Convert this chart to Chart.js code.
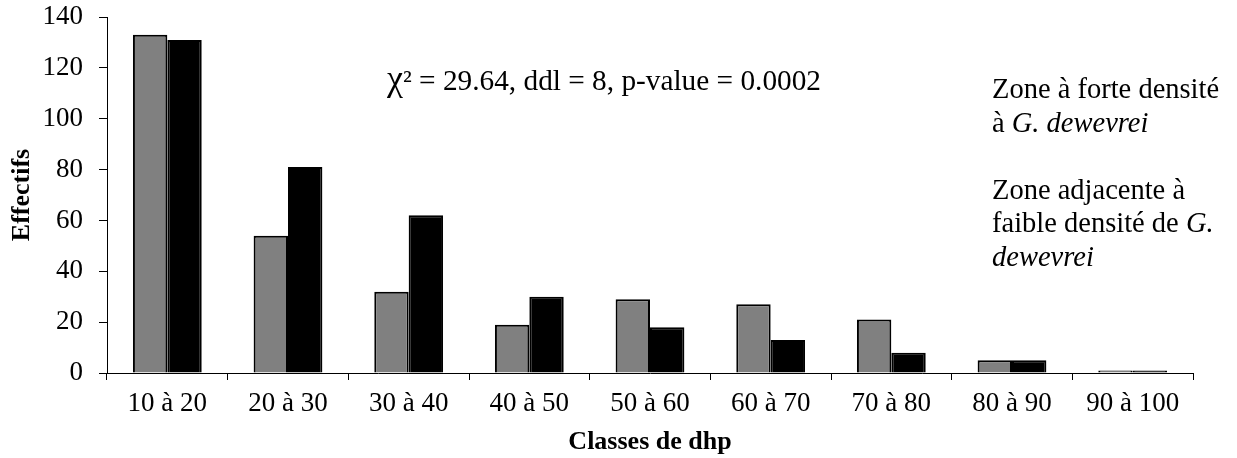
<!DOCTYPE html>
<html>
<head>
<meta charset="utf-8">
<script src="https://cdn.jsdelivr.net/npm/chart.js@4"></script>
<style>
  html, body { margin: 0; padding: 0; background: #fff; }
  #wrap { position: relative; width: 1237px; height: 458px; }
  canvas { position: absolute; left: 0; top: 0; }
  .txt { position: absolute; font-family: "Liberation Serif", "Times New Roman", serif; color: #000; white-space: nowrap; }
  #chi { left: 387px; top: 60px; font-size: 29.3px; line-height: 36px; }
  #chi .x { font-size: 36px; }
  #leg { left: 992px; top: 72px; font-size: 28.5px; line-height: 33.5px; }
</style>
</head>
<body>
<div id="wrap">
  <canvas id="c" width="1237" height="458"></canvas>
  <div id="chi" class="txt"><span class="x">χ</span>² = 29.64, ddl = 8, p-value = 0.0002</div>
  <div id="leg" class="txt">Zone à forte densité<br>à <i>G. dewevrei</i><br>&nbsp;<br>Zone adjacente à<br>faible densité de <i>G.</i><br><i>dewevrei</i></div>
</div>
<script>
const categories = ["10 à 20", "20 à 30", "30 à 40", "40 à 50", "50 à 60", "60 à 70", "70 à 80", "80 à 90", "90 à 100"];
const forteDensite = [133, 54, 32, 19, 29, 27, 21, 5, 1];
const faibleDensite = [131, 81, 62, 30, 18, 13, 8, 5, 1];
const yTicks = [0, 20, 40, 60, 80, 100, 120, 140];
const seriesNames = ["Zone à forte densité à G. dewevrei", "Zone adjacente à faible densité de G. dewevrei"];

const FONT = '"Liberation Serif", "Times New Roman", serif';

new Chart(document.getElementById('c'), {
  type: 'bar',
  data: {
    labels: categories,
    datasets: [
      { label: seriesNames[0], data: forteDensite, backgroundColor: '#808080', borderColor: '#000', borderWidth: 2, borderSkipped: 'start' },
      { label: seriesNames[1], data: faibleDensite, backgroundColor: '#000', borderColor: '#000', borderWidth: 2, borderSkipped: 'start' }
    ]
  },
  options: {
    responsive: false,
    animation: false,
    events: [],
    layout: { padding: { top: 17, right: 44, left: 0, bottom: 0 } },
    datasets: { bar: { categoryPercentage: 0.57, barPercentage: 1.0 } },
    plugins: { legend: { display: false }, tooltip: { enabled: false } },
    scales: {
      x: {
        grid: { display: true, drawOnChartArea: false, drawTicks: true, tickLength: 7, color: '#000', offset: true },
        border: { display: true, color: '#000', width: 1 },
        ticks: { color: '#000', font: { family: FONT, size: 27 }, padding: 8, maxRotation: 0, autoSkip: false },
        title: { display: true, text: 'Classes de dhp', color: '#000', font: { family: FONT, size: 26, weight: 'bold' }, padding: { top: 0, bottom: 0 } },
        afterFit: s => { s.height = 85; s.paddingLeft = 0; s.paddingRight = 0; s.paddingTop = 0; s.paddingBottom = 0; }
      },
      y: {
        min: 0, max: 140,
        afterBuildTicks: s => { s.ticks = yTicks.map(v => ({ value: v })); },
        grid: { display: true, drawOnChartArea: false, drawTicks: true, tickLength: 8, color: '#000' },
        border: { display: true, color: '#000', width: 1 },
        ticks: { color: '#000', font: { family: FONT, size: 27 }, padding: 16 },
        title: { display: true, text: 'Effectifs', color: '#000', font: { family: FONT, size: 26, weight: 'bold' }, padding: { top: 7, bottom: 0 } },
        afterFit: s => { s.width = 107; s.paddingTop = 0; s.paddingBottom = 0; s.paddingLeft = 0; s.paddingRight = 0; }
      }
    }
  }
});
</script>
</body>
</html>
